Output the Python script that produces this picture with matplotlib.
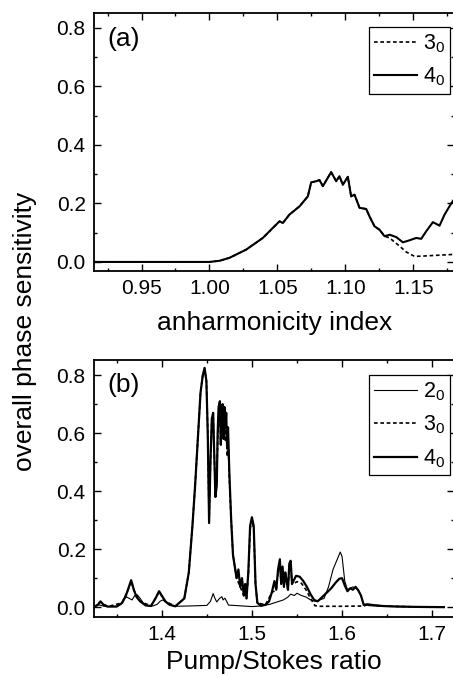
import matplotlib
matplotlib.use("Agg")
import matplotlib.pyplot as plt
from matplotlib.ticker import MultipleLocator

plt.rcParams['font.family'] = ['Liberation Sans', 'DejaVu Sans']
plt.rcParams['mathtext.fontset'] = 'custom'
plt.rcParams['mathtext.rm'] = 'Liberation Sans'

# (a) anharmonicity index
anh_x = [0.915, 1.000, 1.0075, 1.0147, 1.027, 1.0393, 1.0466, 1.0516, 1.054, 1.0589,
         1.0663, 1.0724, 1.0749, 1.0786, 1.081, 1.0835, 1.0896, 1.0933, 1.0957, 1.0982,
         1.1019, 1.1043, 1.1068, 1.1105, 1.1154, 1.1178, 1.1215, 1.1252, 1.1289, 1.1326,
         1.1375, 1.1424, 1.1473, 1.1522, 1.1559, 1.1596, 1.1645, 1.1694, 1.1731, 1.178,
         1.181]
anh_4 = [0.0, 0.0, 0.004, 0.014, 0.042, 0.082, 0.116, 0.139, 0.133, 0.162,
         0.19, 0.224, 0.272, 0.276, 0.28, 0.259, 0.307, 0.276, 0.293, 0.264,
         0.291, 0.224, 0.23, 0.185, 0.181, 0.156, 0.122, 0.11, 0.088, 0.093,
         0.085, 0.067, 0.074, 0.082, 0.079, 0.105, 0.136, 0.124, 0.162, 0.20,
         0.22]
# 3_0 follows 4_0 up to ~1.13, then drops
anh3_x = anh_x[:29] + [1.1326, 1.14, 1.1449, 1.151, 1.157, 1.1645, 1.1768, 1.181]
anh_3 = anh_4[:29] + [0.082, 0.054, 0.034, 0.019, 0.02, 0.022, 0.025, 0.026]

# (b) Pump/Stokes ratio
ps4_x = [1.325, 1.329, 1.332, 1.336, 1.34, 1.35, 1.356, 1.360, 1.363, 1.366,
         1.369, 1.372, 1.376, 1.382, 1.388, 1.393, 1.397, 1.400, 1.404, 1.409,
         1.415, 1.425, 1.430, 1.434, 1.437, 1.440, 1.443, 1.4455, 1.4475, 1.4495,
         1.451, 1.4525, 1.454, 1.4555, 1.457, 1.458, 1.4595, 1.461, 1.462, 1.463,
         1.4645, 1.4655, 1.4665, 1.4675, 1.4685, 1.4695, 1.4705, 1.4715, 1.4725, 1.4735,
         1.475, 1.477, 1.479, 1.481, 1.483, 1.485, 1.487, 1.489, 1.491, 1.4925,
         1.494, 1.496, 1.498, 1.500, 1.502, 1.504, 1.506, 1.51, 1.515, 1.519,
         1.522, 1.525, 1.527, 1.529, 1.531, 1.5325, 1.534, 1.5355, 1.537, 1.5385,
         1.540, 1.5415, 1.543, 1.5445, 1.546, 1.549, 1.553, 1.557, 1.561, 1.565,
         1.569, 1.573, 1.578, 1.583, 1.588, 1.593, 1.597, 1.600, 1.603, 1.606,
         1.609, 1.612, 1.615, 1.618, 1.621, 1.624, 1.628, 1.635, 1.645, 1.66,
         1.68, 1.713]
ps4_y = [0.0, 0.008, 0.02, 0.006, 0.002, 0.002, 0.015, 0.038, 0.065, 0.093,
         0.06, 0.035, 0.02, 0.006, 0.004, 0.03, 0.055, 0.04, 0.02, 0.008,
         0.003, 0.03, 0.12, 0.28, 0.42, 0.58, 0.74, 0.80, 0.825, 0.78,
         0.60, 0.29, 0.50, 0.65, 0.67, 0.55, 0.38, 0.42, 0.60, 0.69,
         0.71, 0.56, 0.66, 0.70, 0.58, 0.69, 0.62, 0.67, 0.55, 0.62,
         0.46, 0.30, 0.18, 0.14, 0.10, 0.13, 0.07, 0.10, 0.04, 0.08,
         0.03, 0.12, 0.28, 0.31, 0.28, 0.08, 0.015, 0.005, 0.008, 0.02,
         0.05, 0.09, 0.06, 0.13, 0.165, 0.08, 0.14, 0.07, 0.12, 0.09,
         0.06, 0.15, 0.16, 0.08, 0.09, 0.108, 0.105, 0.09, 0.07, 0.045,
         0.025, 0.02, 0.035, 0.05, 0.065, 0.085, 0.098, 0.10, 0.075, 0.055,
         0.065, 0.06, 0.07, 0.058, 0.04, 0.008, 0.01, 0.007, 0.004, 0.002,
         0.001, 0.0]

ps3_x = [1.325, 1.332, 1.34, 1.356, 1.363, 1.366, 1.369, 1.376, 1.388, 1.397,
         1.404, 1.415, 1.425, 1.430, 1.434, 1.437, 1.440, 1.443, 1.4455, 1.4475,
         1.4495, 1.451, 1.4525, 1.454, 1.4555, 1.457, 1.458, 1.4595, 1.461, 1.462,
         1.463, 1.4645, 1.4655, 1.4665, 1.4675, 1.4685, 1.4695, 1.4705, 1.4715, 1.4725,
         1.4735, 1.475, 1.477, 1.479, 1.483, 1.487, 1.491, 1.494, 1.496, 1.498,
         1.500, 1.502, 1.504, 1.506, 1.515, 1.522, 1.527, 1.529, 1.531, 1.5325,
         1.534, 1.5355, 1.537, 1.5385, 1.540, 1.5415, 1.543, 1.5445, 1.546, 1.550,
         1.555, 1.560, 1.565, 1.570, 1.575, 1.60, 1.624, 1.628, 1.645, 1.68,
         1.713]
ps3_y = [0.0, 0.018, 0.002, 0.015, 0.062, 0.09, 0.058, 0.02, 0.004, 0.052,
         0.02, 0.003, 0.03, 0.12, 0.28, 0.42, 0.58, 0.74, 0.80, 0.82,
         0.78, 0.60, 0.30, 0.50, 0.64, 0.66, 0.55, 0.40, 0.43, 0.58,
         0.63, 0.66, 0.56, 0.62, 0.60, 0.58, 0.64, 0.57, 0.62, 0.52,
         0.58, 0.44, 0.30, 0.18, 0.10, 0.07, 0.04, 0.03, 0.11, 0.27,
         0.30, 0.27, 0.08, 0.015, 0.008, 0.05, 0.06, 0.12, 0.15, 0.08,
         0.13, 0.07, 0.11, 0.09, 0.06, 0.14, 0.145, 0.08, 0.08, 0.088,
         0.082, 0.06, 0.03, 0.005, 0.003, 0.003, 0.004, 0.008, 0.004, 0.001,
         0.0]

ps2_x = [1.325, 1.33, 1.335, 1.34, 1.35, 1.355, 1.358, 1.361, 1.364, 1.367,
         1.37, 1.373, 1.376, 1.38, 1.385, 1.39, 1.395, 1.398, 1.401, 1.404,
         1.408, 1.415, 1.43, 1.45, 1.454, 1.457, 1.459, 1.461, 1.464, 1.4667,
         1.468, 1.470, 1.472, 1.474, 1.48, 1.49, 1.5, 1.51, 1.52, 1.525,
         1.53, 1.535, 1.54, 1.543, 1.547, 1.55, 1.555, 1.56, 1.565, 1.57,
         1.575, 1.58, 1.585, 1.59, 1.594, 1.598, 1.600, 1.603, 1.606, 1.609,
         1.612, 1.615, 1.618, 1.621, 1.624, 1.63, 1.65, 1.68, 1.713]
ps2_y = [0.003, 0.008, 0.004, 0.002, 0.003, 0.01, 0.03, 0.035, 0.03, 0.025,
         0.04, 0.042, 0.03, 0.012, 0.005, 0.004, 0.01, 0.02, 0.025, 0.018,
         0.008, 0.003, 0.004, 0.006, 0.02, 0.047, 0.03, 0.018, 0.03, 0.036,
         0.025, 0.031, 0.02, 0.007, 0.006, 0.004, 0.002, 0.004, 0.01, 0.015,
         0.02, 0.025, 0.035, 0.045, 0.04, 0.048, 0.04, 0.035, 0.025, 0.02,
         0.025, 0.03, 0.07, 0.13, 0.16, 0.19, 0.175, 0.09, 0.06, 0.065,
         0.07, 0.065, 0.06, 0.04, 0.01, 0.005, 0.003, 0.002, 0.001]

dotted = (0, (2.2, 1.6))

fig = plt.figure(figsize=(4.53, 6.77), dpi=100)
ax1 = fig.add_axes([0.2075, 0.5997, 0.7955, 0.3811])
ax2 = fig.add_axes([0.2075, 0.0886, 0.7955, 0.3796])

ax1.plot(anh3_x, anh_3, color='black', lw=1.2, ls=dotted, label='3$_0$')
ax1.plot(anh_x, anh_4, color='black', lw=1.5, label='4$_0$')
ax1.set_xlim(0.915, 1.1803)
ax1.set_ylim(-0.031, 0.851)
ax1.xaxis.set_major_locator(MultipleLocator(0.05))
ax1.xaxis.set_minor_locator(MultipleLocator(0.025))
ax1.set_xlabel('anharmonicity index', fontsize=19, labelpad=9)
ax1.text(0.036, 0.945, '(a)', transform=ax1.transAxes, fontsize=19, va='top')

ax2.plot(ps2_x, ps2_y, color='black', lw=0.8, label='2$_0$')
ax2.plot(ps3_x, ps3_y, color='black', lw=1.2, ls=dotted, label='3$_0$')
ax2.plot(ps4_x, ps4_y, color='black', lw=1.6, label='4$_0$')
ax2.set_xlim(1.3248, 1.7246)
ax2.set_ylim(-0.034, 0.852)
ax2.xaxis.set_major_locator(MultipleLocator(0.1))
ax2.xaxis.set_minor_locator(MultipleLocator(0.05))
ax2.set_xlabel('Pump/Stokes ratio', fontsize=19, labelpad=4)
ax2.text(0.036, 0.95, '(b)', transform=ax2.transAxes, fontsize=19, va='top')

for ax, top in ((ax1, 0.946), (ax2, 0.942)):
    ax.yaxis.set_major_locator(MultipleLocator(0.2))
    ax.yaxis.set_minor_locator(MultipleLocator(0.1))
    ax.tick_params(which='both', direction='in', top=True, right=True,
                   labelsize=15, width=1.0)
    ax.tick_params(which='major', length=5, pad=6)
    ax.tick_params(which='minor', length=2.5)
    for s in ax.spines.values():
        s.set_linewidth(1.3)
    leg = ax.legend(loc='upper right', bbox_to_anchor=(0.988, top), borderaxespad=0,
                    fontsize=15.5, handlelength=2.0, handletextpad=0.25,
                    labelspacing=0.5, borderpad=0.25, fancybox=False,
                    framealpha=1, edgecolor='black')
    leg.get_frame().set_linewidth(0.9)

fig.text(0.055, 0.511, 'overall phase sensitivity', rotation=90, fontsize=19,
         ha='center', va='center')

fig.savefig('out.png', dpi=100)
